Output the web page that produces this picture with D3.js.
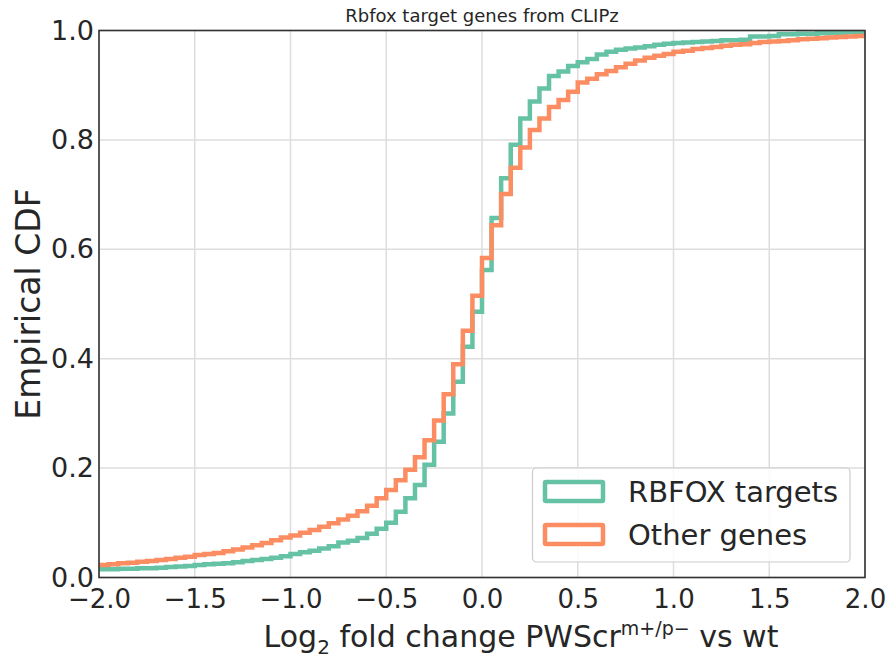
<!DOCTYPE html>
<html>
<head>
<meta charset="utf-8">
<script src="https://cdn.jsdelivr.net/npm/d3@7"></script>
<style>
  html, body { margin: 0; padding: 0; background: #fff; }
  svg { display: block; font-family: "DejaVu Sans", sans-serif; }
</style>
</head>
<body>
<svg id="chart" width="893" height="660"></svg>
<script>
// Cumulative histograms of log2 fold change, bins of 0.05 from -2.0 to 2.0
const binStart = -2.0;
const binWidth = 0.05;
const seriesNames = ["RBFOX targets", "Other genes"];
const seriesColors = ["#66c2a5", "#fc8d62"];

// Empirical CDF level of each bin, RBFOX targets
const rbfoxCdf = [
  0.015, 0.015, 0.016, 0.016, 0.017, 0.017, 0.018, 0.019, 0.020, 0.021,
  0.023, 0.024, 0.025, 0.026, 0.028, 0.030, 0.032, 0.034, 0.036, 0.039,
  0.043, 0.046, 0.049, 0.053, 0.057, 0.064, 0.067, 0.072, 0.080, 0.089,
  0.100, 0.120, 0.145, 0.169, 0.206, 0.248, 0.300, 0.358, 0.422, 0.486,
  0.562, 0.657, 0.730, 0.791, 0.839, 0.870, 0.894, 0.917, 0.925, 0.935,
  0.942, 0.948, 0.956, 0.961, 0.965, 0.967, 0.969, 0.971, 0.974, 0.976,
  0.977, 0.978, 0.979, 0.980, 0.981, 0.982, 0.982, 0.983, 0.989, 0.989,
  0.990, 0.993, 0.993, 0.994, 0.994, 0.995, 0.995, 0.996, 0.997, 0.997
];

// Empirical CDF level of each bin, other genes
const otherCdf = [
  0.023, 0.024, 0.026, 0.027, 0.029, 0.030, 0.032, 0.034, 0.036, 0.038,
  0.041, 0.043, 0.045, 0.048, 0.051, 0.055, 0.059, 0.063, 0.068, 0.073,
  0.077, 0.082, 0.087, 0.093, 0.099, 0.106, 0.113, 0.121, 0.131, 0.145,
  0.160, 0.178, 0.197, 0.220, 0.251, 0.287, 0.335, 0.390, 0.451, 0.515,
  0.584, 0.644, 0.701, 0.749, 0.786, 0.818, 0.839, 0.860, 0.873, 0.888,
  0.905, 0.912, 0.920, 0.926, 0.933, 0.939, 0.945, 0.950, 0.954, 0.957,
  0.961, 0.963, 0.966, 0.968, 0.970, 0.972, 0.974, 0.975, 0.977, 0.979,
  0.980, 0.981, 0.982, 0.984, 0.985, 0.986, 0.987, 0.988, 0.989, 0.990
];

const xTicks = [-2.0, -1.5, -1.0, -0.5, 0.0, 0.5, 1.0, 1.5, 2.0];
const yTicks = [0.0, 0.2, 0.4, 0.6, 0.8, 1.0];

const svg = d3.select("#chart");
const margin = { left: 99, right: 28, top: 30.5, bottom: 82.5 };
const W = 893, H = 660;
const x = d3.scaleLinear().domain([-2, 2]).range([margin.left, W - margin.right]);
const y = d3.scaleLinear().domain([0, 1]).range([H - margin.bottom, margin.top]);
const textColor = "#262626";
const fmt = d => d3.format(".1f")(d).replace("-", "\u2212");

// grid
const grid = svg.append("g");
grid.selectAll("line.gx").data(xTicks).join("line")
  .attr("x1", d => x(d)).attr("x2", d => x(d))
  .attr("y1", y(0)).attr("y2", y(1))
  .attr("stroke", "#dddddd").attr("stroke-width", 1.5);
grid.selectAll("line.gy").data(yTicks).join("line")
  .attr("y1", d => y(d)).attr("y2", d => y(d))
  .attr("x1", x(-2)).attr("x2", x(2))
  .attr("stroke", "#dddddd").attr("stroke-width", 1.5);

// step lines
svg.append("defs").append("clipPath").attr("id", "plot-clip")
  .append("rect").attr("x", x(-2)).attr("y", y(1)).attr("width", x(2) - x(-2)).attr("height", y(0) - y(1));

const stepLine = d3.line().x(d => x(d[0])).y(d => y(d[1])).curve(d3.curveStepAfter);
function stepPoints(vals) {
  const pts = vals.map((v, i) => [binStart + i * binWidth, v]);
  pts.push([binStart + vals.length * binWidth, vals[vals.length - 1]]);
  return pts;
}
const lines = svg.append("g").attr("clip-path", "url(#plot-clip)");
[rbfoxCdf, otherCdf].forEach((vals, k) => {
  lines.append("path")
    .attr("d", stepLine(stepPoints(vals)))
    .attr("fill", "none")
    .attr("stroke", seriesColors[k])
    .attr("stroke-width", 4.5)
    .attr("stroke-linejoin", "miter");
});

// axes frame
svg.append("rect")
  .attr("x", x(-2)).attr("y", y(1))
  .attr("width", x(2) - x(-2)).attr("height", y(0) - y(1))
  .attr("fill", "none").attr("stroke", "#333333").attr("stroke-width", 1.6);

// tick labels
const xAxis = d3.axisBottom(x).tickValues(xTicks).tickFormat(fmt).tickSize(0).tickPadding(12);
const gx = svg.append("g").attr("transform", `translate(0,${y(0)})`).call(xAxis);
gx.select(".domain").remove();
gx.selectAll("text").attr("font-size", 26).attr("fill", textColor).attr("font-family", "DejaVu Sans");

const yAxis = d3.axisLeft(y).tickValues(yTicks).tickFormat(fmt).tickSize(0).tickPadding(5);
const gy = svg.append("g").attr("transform", `translate(${x(-2)},0)`).call(yAxis);
gy.select(".domain").remove();
gy.selectAll("text").attr("font-size", 27).attr("fill", textColor).attr("font-family", "DejaVu Sans");

// axis titles
const xt = svg.append("text")
  .attr("x", 521).attr("y", 647)
  .attr("text-anchor", "middle").attr("font-size", 30).attr("fill", textColor);
xt.append("tspan").text("Log");
xt.append("tspan").attr("font-size", 20).attr("dy", 7).text("2");
xt.append("tspan").attr("dy", -7).text(" fold change PWScr");
xt.append("tspan").attr("font-size", 19).attr("dy", -12).text("m+/p\u2212");
xt.append("tspan").attr("dy", 12).text(" vs wt");

svg.append("text")
  .attr("transform", `translate(40,${(y(0) + y(1)) / 2}) rotate(-90)`)
  .attr("text-anchor", "middle").attr("font-size", 33).attr("fill", textColor)
  .text("Empirical CDF");

svg.append("text")
  .attr("x", x(0)).attr("y", 22)
  .attr("text-anchor", "middle").attr("font-size", 18).attr("fill", textColor)
  .text("Rbfox target genes from CLIPz");

// legend
const lg = svg.append("g");
lg.append("rect")
  .attr("x", 532.5).attr("y", 468).attr("width", 317.5).attr("height", 94)
  .attr("rx", 4).attr("fill", "#ffffff").attr("fill-opacity", 0.85)
  .attr("stroke", "#cccccc").attr("stroke-width", 1.2);
seriesNames.forEach((name, k) => {
  lg.append("rect")
    .attr("x", 545).attr("y", 482 + k * 43).attr("width", 58).attr("height", 19)
    .attr("fill", "#ffffff").attr("stroke", seriesColors[k]).attr("stroke-width", 4.5).attr("rx", 1);
  lg.append("text")
    .attr("x", 628).attr("y", 502 + k * 43)
    .attr("font-size", 29).attr("fill", textColor)
    .text(name);
});
</script>
</body>
</html>
